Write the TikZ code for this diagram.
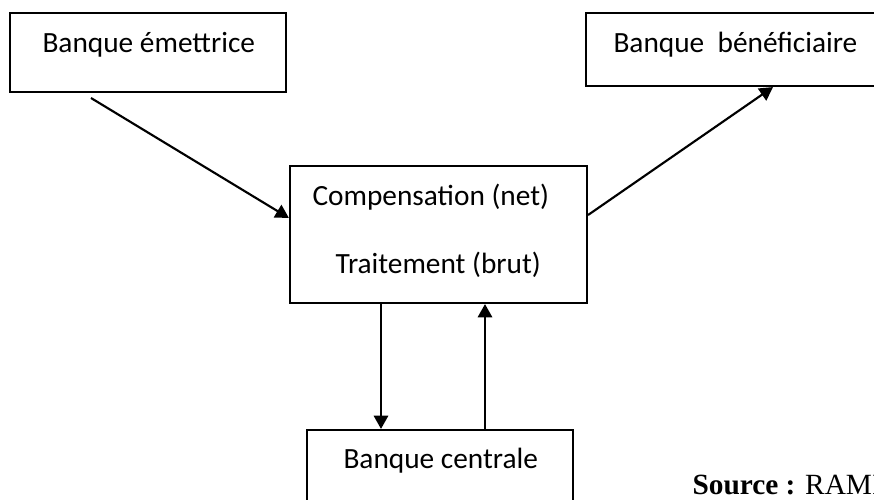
\documentclass[tikz,border=0pt]{standalone}
\usepackage{fontspec}
\setmainfont{Carlito}
\newfontfamily\srcfont{Liberation Serif}
\usetikzlibrary{arrows.meta}
\begin{document}
\begin{tikzpicture}[x=0.375pt,y=-0.375pt,
  boxst/.style={draw,line width=0.8pt,inner sep=0pt},
  lbl/.style={anchor=base west,inner sep=0pt,font=\fontsize{11}{13}\selectfont},
  conn/.style={line width=0.8pt,-{Triangle[length=5pt,width=5.4pt]}}]
\useasboundingbox (0,0) rectangle (874,500);
\clip (0,0) rectangle (874,500);
% boxes
\node[boxst,minimum width=276*0.375pt,minimum height=79*0.375pt] (b1) at (148,52.5) {};
\node[boxst,minimum width=320*0.375pt,minimum height=73*0.375pt] (b2) at (746,49.5) {};
\node[boxst,minimum width=297*0.375pt,minimum height=137*0.375pt] (b3) at (438.5,234.5) {};
\node[boxst,minimum width=266*0.375pt,minimum height=110*0.375pt] (b4) at (440,485) {};
% texts
\node[lbl] (t1) at (42,53) {Banque émettrice};
\node[lbl] (t2) at (613,53) {Banque\ \ bénéficiaire};
\node[lbl] (t3) at (312,205) {Compensation (net)};
\node[lbl] (t4) at (335,273) {Traitement (brut)};
\node[lbl] (t5) at (343,468) {Banque centrale};
\node[anchor=base west,inner sep=0pt,font=\srcfont\fontsize{11}{13}\selectfont] (src) at (692,495) {\textbf{Source :} RAMI};
% connectors
\coordinate (a1s) at (91,98);
\coordinate (a1e) at (290,218);
\coordinate (a2s) at (587,215);
\coordinate (a2e) at (773,86.5);
\draw[conn] (a1s) -- (b3.west |- a1e);
\draw[conn] (b3.east |- a2s) -- (b2.south -| a2e);
\draw[conn] (b3.south -| 381,0) -- (b4.north -| 381,0);
\draw[conn] (b4.north -| 485,0) -- (b3.south -| 485,0);
\end{tikzpicture}
\end{document}
